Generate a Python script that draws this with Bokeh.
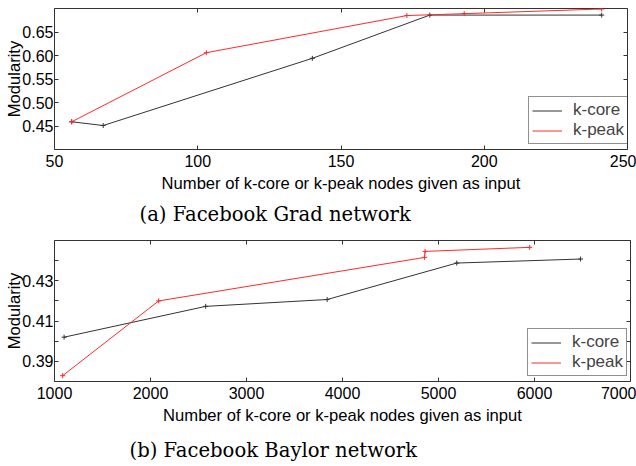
from bokeh.plotting import figure
from bokeh.models import Range1d, FixedTicker, LinearAxis, Legend, LegendItem, CustomJSTickFormatter, PrintfTickFormatter, Title
from bokeh.layouts import column
from bokeh.embed import file_html
from bokeh.resources import INLINE

# ---- data: Facebook Grad ----
grad_kcore_x = [56, 67, 140, 181, 241]
grad_kcore_y = [0.459, 0.451, 0.594, 0.686, 0.686]
grad_kpeak_x = [56, 103, 173, 193, 241]
grad_kpeak_y = [0.459, 0.606, 0.685, 0.689, 0.699]
grad_xticks = [50, 100, 150, 200, 250]
grad_yticks = [0.45, 0.50, 0.55, 0.60, 0.65]
grad_yminor = []

# ---- data: Facebook Baylor ----
baylor_kcore_x = [1100, 2575, 3840, 5190, 6480]
baylor_kcore_y = [0.402, 0.4173, 0.4207, 0.4388, 0.4408]
baylor_kpeak_x = [1085, 2085, 4855, 4860, 5950]
baylor_kpeak_y = [0.3829, 0.420, 0.4416, 0.4446, 0.4466]
baylor_xticks = [1000, 2000, 3000, 4000, 5000, 6000, 7000]
baylor_yticks = [0.39, 0.41, 0.43]
baylor_yminor = [0.40, 0.42, 0.44]

SANS = "Liberation Sans"
SERIF = "DejaVu Serif"
BLACK = "#333333"
RED = "#ff2a2a"


def make_panel(xr, yr, xticks, yticks, yminor, kc_x, kc_y, kp_x, kp_y,
               caption, cap_offset, cap_standoff, fw, fh, borders, legend_loc):
    p = figure(frame_width=fw, frame_height=fh, output_backend="svg", toolbar_location=None,
               x_range=Range1d(*xr), y_range=Range1d(*yr),
               min_border_left=borders[0], min_border_right=borders[1],
               min_border_top=borders[2], min_border_bottom=borders[3])
    p.xgrid.visible = False
    p.ygrid.visible = False
    p.outline_line_color = "#333333"
    p.outline_line_width = 1
    p.background_fill_color = "white"
    p.border_fill_color = "white"

    bottom = p.below[0]
    left = p.left[0]

    xt = FixedTicker(ticks=xticks)
    yt = FixedTicker(ticks=yticks, minor_ticks=yminor)
    bottom.ticker = xt
    left.ticker = yt
    left.formatter = PrintfTickFormatter(format="%.2f")

    blank = CustomJSTickFormatter(code="return ''")
    top = LinearAxis(ticker=xt, formatter=blank)
    right = LinearAxis(ticker=yt, formatter=blank)
    p.add_layout(top, "above")
    p.add_layout(right, "right")

    for ax in (bottom, left, top, right):
        ax.axis_line_color = None
        ax.major_tick_in = 4
        ax.major_tick_out = 0
        ax.minor_tick_in = 4
        ax.minor_tick_out = 0
        ax.major_tick_line_color = "#333333"
        ax.minor_tick_line_color = "#333333"
        ax.major_label_text_font = SANS
        ax.major_label_text_font_size = "16px"
        ax.major_label_text_color = "black"
        ax.axis_label_text_font = SANS
        ax.axis_label_text_font_size = "16.6px"
        ax.axis_label_text_font_style = "normal"
        ax.axis_label_text_color = "black"
    bottom.minor_tick_in = 0
    top.minor_tick_in = 0
    for ax in (top, right):
        ax.major_label_standoff = 0
        ax.major_label_text_font_size = "0px"

    bottom.major_label_standoff = 5
    bottom.axis_label = "Number of k-core or k-peak nodes given as input"
    bottom.axis_label_standoff = 4
    left.major_label_standoff = 1
    left.axis_label = "Modularity"
    left.axis_label_standoff = -5

    r1 = p.line(kc_x, kc_y, line_color=BLACK, line_width=1)
    p.scatter(kc_x, kc_y, marker="cross", size=5, line_color=BLACK, line_width=1)
    r2 = p.line(kp_x, kp_y, line_color=RED, line_width=1)
    p.scatter(kp_x, kp_y, marker="cross", size=5, line_color=RED, line_width=1)

    leg = Legend(items=[LegendItem(label="k-core", renderers=[r1]),
                        LegendItem(label="k-peak", renderers=[r2])],
                 location=legend_loc, margin=0, padding=3, spacing=0,
                 glyph_width=30, glyph_height=19, label_height=19, label_standoff=11,
                 label_text_font=SANS, label_text_font_size="17px",
                 border_line_color="#222222", border_line_width=1,
                 background_fill_color="white", background_fill_alpha=1)
    p.add_layout(leg)

    cap = Title(text=caption, align="left", offset=cap_offset, text_font=SERIF,
                text_font_size="19.6px", text_font_style="normal", text_color="black",
                standoff=cap_standoff)
    p.add_layout(cap, "below")
    return p


p1 = make_panel((50, 250), (0.40, 0.70), grad_xticks, grad_yticks, grad_yminor,
                grad_kcore_x, grad_kcore_y, grad_kpeak_x, grad_kpeak_y,
                "(a) Facebook Grad network", 85, 11, 573, 141, (52, 11, 8, 80), (474, 5))
p2 = make_panel((1000, 7000), (0.38, 0.45), baylor_xticks, baylor_yticks, baylor_yminor,
                baylor_kcore_x, baylor_kcore_y, baylor_kpeak_x, baylor_kpeak_y,
                "(b) Facebook Baylor network", 75, 19, 576, 141, (54, 6, 9, 87), (473, 5))

layout = column(p1, p2, spacing=0)
open("out.html", "w").write(file_html(layout, INLINE))
